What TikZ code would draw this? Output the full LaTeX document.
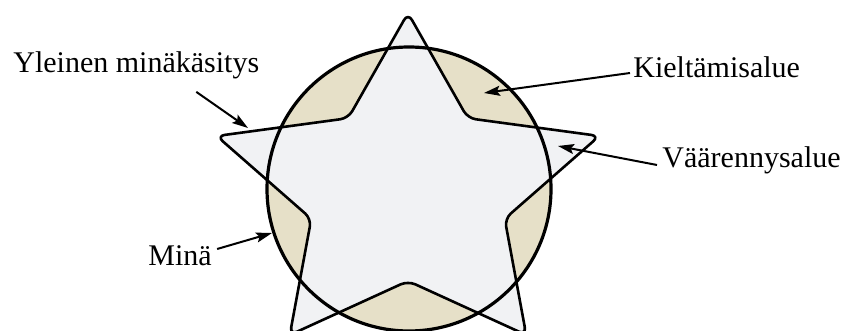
\documentclass[tikz,border=0pt]{standalone}
\usepackage{fontspec}
\setmainfont{Liberation Serif}
\usetikzlibrary{arrows.meta}
\definecolor{selfBeige}{RGB}{230, 224, 200}
\definecolor{selfGray}{RGB}{241, 242, 244}

\begin{document}
\begin{tikzpicture}[x=0.5pt, y=-0.5pt,
      every node/.style={font=\fontsize{15}{18}\selectfont, inner sep=0pt},
      lbl/.style={anchor=base west},
      pointer/.style={-{Stealth[length=8pt, width=5pt, inset=1.5pt]}, line width=1pt}]
  \useasboundingbox (0,0) rectangle (844,331);
  \clip (0,0) rectangle (844,331);
  % self circle and star
  \fill[selfBeige] (409,189) circle[radius=142];
  \begin{scope}[shift={(408,191)}, xscale=1.13, yscale=-1]
    \filldraw[fill=selfGray, line width=1.3pt, line join=round, rounded corners=4pt]
      (90:178) -- (126:90) -- (162:178) -- (198:90) -- (234:178) -- (270:90)
      -- (306:178) -- (342:90) -- (18:178) -- (54:90) -- cycle;
  \end{scope}
  \draw[line width=1.6pt] (409,189) circle[radius=142];
  % labels
  \node[lbl] (yl) at (13,73)  {Yleinen minäkäsitys};
  \node[lbl] (kt) at (633,78) {Kieltämisalue};
  \node[lbl] (va) at (662,168) {Väärennysalue};
  \node[lbl] (mi) at (148,265) {Minä};
  \coordinate (ylTip) at (248,128);
  \coordinate (ktTip) at (484,93);
  \coordinate (vaTip) at (558,146);
  \coordinate (miTip) at (272,233);
  \draw[pointer] ([xshift=30pt, yshift=-6pt]yl.south) -- (ylTip);
  \draw[pointer] ([xshift=-1.5pt, yshift=2.5pt]kt.base west) -- (ktTip);
  \draw[pointer] ([xshift=-2.5pt, yshift=1.5pt]va.base west) -- (vaTip);
  \draw[pointer] ([xshift=2.5pt, yshift=8pt]mi.base east) -- (miTip);
\end{tikzpicture}
\end{document}
